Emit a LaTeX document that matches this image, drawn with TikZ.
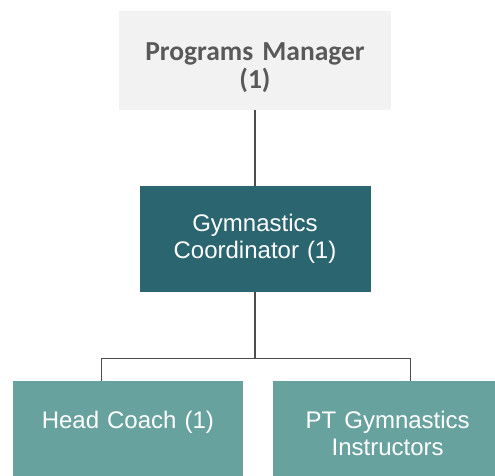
\documentclass[tikz,border=0pt]{standalone}
\usepackage{fontspec}
\setmainfont{Liberation Sans}
\newfontfamily\titlefont{Carlito}
\definecolor{mgrgray}{HTML}{F2F2F2}
\definecolor{mgrtext}{HTML}{595959}
\definecolor{coordteal}{HTML}{2B6570}
\definecolor{staffteal}{HTML}{68A29F}
\definecolor{linegray}{HTML}{4D4D4D}
\tikzset{
 role/.style={rectangle, inner sep=0pt, align=center, text=white, font=\fontsize{24}{27}\selectfont},
 conn/.style={draw=linegray, line width=1.2pt}
}

\begin{document}
\begin{tikzpicture}[x=1pt,y=-1pt]
 \useasboundingbox (0,0) rectangle (495,475);
 \clip (0,0) rectangle (495,475);

 \node[role, anchor=north, fill=mgrgray, text=mgrtext, font=\titlefont\bfseries\fontsize{27.5}{28}\selectfont, text width=272pt, text height=49pt, text depth=50pt] (mgr) at (255,11) {Programs Manager\\(1)};
 \node[role, fill=coordteal, text width=231pt, minimum height=106pt] (coord) at (255,239) {Gymnastics\\Coordinator (1)};
 \node[role, anchor=north, fill=staffteal, text width=230pt, text height=47pt, text depth=60pt] (head) at (127.85,381) {Head Coach (1)};
 \node[role, anchor=north, fill=staffteal, text width=230pt, text height=47pt, text depth=60pt] (pt) at (387.7,381) {PT Gymnastics\\Instructors};

 % connectors
 \coordinate (bus) at (255,358.7);
 \coordinate (hctop) at ([xshift=-26.15pt]head.north);
 \coordinate (pttop) at ([xshift=22.6pt]pt.north);
 \draw[conn] (mgr) -- (coord);
 \draw[conn] (coord) -- (bus);
 \draw[conn] (hctop) |- (bus) -| (pttop);
\end{tikzpicture}
\end{document}
